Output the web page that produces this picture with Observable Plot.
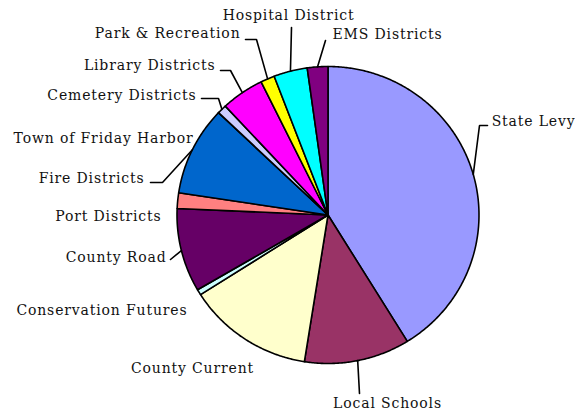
<!DOCTYPE html>
<html><head><meta charset="utf-8">
<script src="https://cdn.jsdelivr.net/npm/d3@7"></script>
<script src="https://cdn.jsdelivr.net/npm/@observablehq/plot@0.6"></script>
<style>html,body{margin:0;padding:0;background:#fff} svg text{letter-spacing:0.85px}</style>
</head><body><div id="chart"></div>
<script>
// ---- data ----
const categories = ["State Levy","Local Schools","County Current","Conservation Futures","County Road","Port Districts","Fire Districts","Town of Friday Harbor","Cemetery Districts","Library Districts","Park & Recreation","Hospital District","EMS Districts"];
const shares = [41.2, 11.3, 13.5, 0.6, 9.1, 1.7, 9.7, 0, 1.0, 4.6, 1.5, 3.6, 2.2];
const colors = ["#9999FF","#993366","#FFFFCC","#CCFFFF","#660066","#FF8080","#0066CC","#000080","#CCCCFF","#FF00FF","#FFFF00","#00FFFF","#800080"];

// ---- layout (pixels) ----
const W = 575, H = 410;
const CX = 327.5, CY = 214.5, RX = 151, RY = 148.5;
// label placement: text point, anchor, leader elbows (pixels)
const labelLayout = {
  "State Levy":            {at:[575,121], anchor:"end",    leader:[[479,125],[487,125]]},
  "Local Schools":         {at:[387,403], anchor:"middle", leader:[[359,393]]},
  "County Current":        {at:[192,368], anchor:"middle", leader:null},
  "Conservation Futures":  {at:[187,310], anchor:"end",    leader:null},
  "County Road":           {at:[166,257], anchor:"end",    leader:[[170,259]]},
  "Port Districts":        {at:[161,216], anchor:"end",    leader:null},
  "Fire Districts":        {at:[144,178], anchor:"end",    leader:[[162,182],[150,182]]},
  "Town of Friday Harbor": {at:[193,138], anchor:"end",    leader:null},
  "Cemetery Districts":    {at:[196,95],  anchor:"end",    leader:[[218,98],[201,98]]},
  "Library Districts":     {at:[215,65],  anchor:"end",    leader:[[230,70],[220,70]]},
  "Park & Recreation":     {at:[240,33],  anchor:"end",    leader:[[256,39],[245,39]]},
  "Hospital District":     {at:[288,15],  anchor:"middle", leader:[[291,27]]},
  "EMS Districts":         {at:[332,34],  anchor:"start",  leader:[[325,40]]}
};

const pxU = px => (px - CX) / RX;
const pxV = py => (CY - py) / RY;

const total = d3.sum(shares);
let cum = 0;
const slices = categories.map((name, i) => {
  const a0 = 2 * Math.PI * cum / total;
  cum += shares[i];
  const a1 = 2 * Math.PI * cum / total;
  const n = Math.max(1, Math.ceil((a1 - a0) / (Math.PI / 360)));
  const pts = [{x: 0, y: 0}];
  for (let k = 0; k <= n; k++) {
    const a = a0 + (a1 - a0) * k / n;
    pts.push({x: Math.sin(a), y: Math.cos(a)});
  }
  const am = (a0 + a1) / 2;
  return {name, color: colors[i], pts, mid: {x: Math.sin(am), y: Math.cos(am)}};
});

const marks = [];
for (const s of slices) {
  marks.push(Plot.line(s.pts, {x: "x", y: "y", curve: "linear-closed", fill: s.color, stroke: "black", strokeWidth: 1.6, strokeLinejoin: "round"}));
}
for (const s of slices) {
  const L = labelLayout[s.name];
  if (L.leader) {
    const pts = [s.mid, ...L.leader.map(([px, py]) => ({x: pxU(px), y: pxV(py)}))];
    marks.push(Plot.line(pts, {x: "x", y: "y", stroke: "black", strokeWidth: 1.6, strokeLinejoin: "miter"}));
  }
}
for (const anchor of ["start", "middle", "end"]) {
  const labs = slices.filter(s => labelLayout[s.name].anchor === anchor)
    .map(s => ({name: s.name, x: pxU(labelLayout[s.name].at[0]), y: pxV(labelLayout[s.name].at[1])}));
  marks.push(Plot.text(labs, {x: "x", y: "y", text: "name", textAnchor: anchor, fill: "#111", fontSize: 14}));
}

const chart = Plot.plot({
  width: W, height: H, margin: 0,
  x: {domain: [pxU(0), pxU(W)], axis: null},
  y: {domain: [pxV(H), pxV(0)], axis: null},
  style: {fontFamily: "'DejaVu Serif', serif", background: "#fff"},
  marks
});
document.getElementById("chart").appendChild(chart);
</script>
</body></html>
